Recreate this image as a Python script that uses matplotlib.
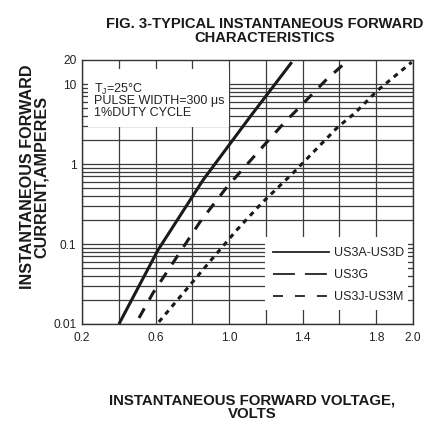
import matplotlib
matplotlib.use("Agg")
import matplotlib.pyplot as plt
from matplotlib.lines import Line2D
from matplotlib.patches import Rectangle

plt.rcParams['font.family'] = ['Liberation Sans', 'DejaVu Sans']
plt.rcParams['lines.scale_dashes'] = False
plt.rcParams['mathtext.default'] = 'regular'

# ---- data ----
v_us3a = [0.401, 0.613, 0.858, 1.113, 1.341]
i_us3a = [0.01, 0.084, 0.63, 3.87, 18.8]

v_us3g = [0.510, 0.586, 0.716, 0.841, 0.988, 1.205, 1.303, 1.368, 1.526, 1.635]
i_us3g = [0.0119, 0.0244, 0.069, 0.188, 0.516, 1.88, 3.35, 4.73, 11.2, 18.8]

v_us3j = [0.618, 0.912, 1.042, 1.178, 1.347, 1.591, 1.684, 1.809, 1.993]
i_us3j = [0.0106, 0.067, 0.15, 0.326, 0.77, 2.9, 4.34, 8.4, 18.8]

series_labels = ['US3A-US3D', 'US3G', 'US3J-US3M']

x_ticks = [0.2, 0.4, 0.6, 0.8, 1.0, 1.2, 1.4, 1.6, 1.8, 2.0]
x_tick_labels = ['0.2', '', '0.6', '', '1.0', '', '1.4', '', '1.8', '2.0']
y_ticks = [0.01, 0.1, 1, 10, 20]
y_tick_labels = ['0.01', '0.1', '1', '10', '20']

W, H = 440, 437
fig = plt.figure(figsize=(W / 100, H / 100), dpi=100)
ax = fig.add_axes([82 / W, 113 / H, 331 / W, 264 / H])

ax.set_yscale('log')
ax.set_xlim(0.2, 2.0)
ax.set_ylim(0.01, 20)

grid_c = '#3c3c3c'
minor_y = [m * 10.0 ** e for e in range(-2, 2) for m in range(2, 10) if m * 10.0 ** e < 20]
for yv in minor_y + [0.01, 0.1, 1, 10]:
    ax.axhline(yv, color=grid_c, lw=0.9, zorder=0.5)
for xv in x_ticks:
    ax.axvline(xv, color=grid_c, lw=0.9, zorder=0.5)

ax.set_xticks(x_ticks)
ax.set_xticklabels(x_tick_labels)
ax.set_yticks(y_ticks)
ax.set_yticklabels(y_tick_labels)
ax.yaxis.set_minor_locator(matplotlib.ticker.NullLocator())
ax.yaxis.set_minor_formatter(matplotlib.ticker.NullFormatter())
ax.tick_params(axis='both', which='both', length=0, labelsize=8.6, colors='#222222')
ax.tick_params(axis='x', pad=6)
ax.tick_params(axis='y', pad=4)
for s in ax.spines.values():
    s.set_color('#333333')
    s.set_linewidth(1.0)

# white boxes covering the grid
ax.add_patch(Rectangle((0.018, 0.745), 0.426, 0.222, transform=ax.transAxes,
                       facecolor='white', edgecolor='none', zorder=1))
ax.add_patch(Rectangle((0.553, 0.053), 0.432, 0.277, transform=ax.transAxes,
                       facecolor='white', edgecolor='none', zorder=1))

# curves
ax.plot(v_us3a, i_us3a, color='#1a1a1a', lw=2.2, solid_capstyle='butt', zorder=3)
ax.plot(v_us3g, i_us3g, color='#1a1a1a', lw=2.2, dashes=(7.9, 7.2), dash_capstyle='butt', zorder=3)
ax.plot(v_us3j, i_us3j, color='#1a1a1a', lw=2.2, dashes=(3.6, 3.6), dash_capstyle='butt', zorder=3)

# condition text
tc = '#222222'
ax.text(0.036, 0.89, r'T$_{J}$=25°C', transform=ax.transAxes, fontsize=9,
        va='center', ha='left', color=tc, zorder=4)
ax.text(0.036, 0.844, 'PULSE WIDTH=300 μs', transform=ax.transAxes, fontsize=9,
        va='center', ha='left', color=tc, zorder=4)
ax.text(0.036, 0.799, '1%DUTY CYCLE', transform=ax.transAxes, fontsize=9,
        va='center', ha='left', color=tc, zorder=4)

# legend
handles = [
    Line2D([], [], color='#222222', lw=1.3),
    Line2D([], [], color='#222222', lw=1.3, dashes=(15.8, 7.2)),
    Line2D([], [], color='#222222', lw=1.3, dashes=(7.2, 8.6)),
]
leg = ax.legend(handles, series_labels, loc='upper left', bbox_to_anchor=(0.577, 0.29),
                frameon=False, fontsize=9, handlelength=4.5, handletextpad=0.35,
                labelspacing=0.8, borderpad=0, borderaxespad=0)
for t in leg.get_texts():
    t.set_color(tc)
leg.set_zorder(4)

# titles
fig.text(265 / W, 1 - 30.5 / H, 'FIG. 3-TYPICAL INSTANTANEOUS FORWARD\nCHARACTERISTICS',
         ha='center', va='center', fontsize=10.6, fontweight='bold', color='#1a1a1a',
         linespacing=1.0)
fig.text(252 / W, 1 - 407.5 / H, 'INSTANTANEOUS FORWARD VOLTAGE,\nVOLTS',
         ha='center', va='center', fontsize=10.8, fontweight='bold', color='#1a1a1a',
         linespacing=1.0)
fig.text(34.5 / W, 1 - 177 / H, 'INSTANTANEOUS FORWARD\nCURRENT,AMPERES',
         ha='center', va='center', rotation=90, fontsize=11.6, fontweight='bold',
         color='#1a1a1a', linespacing=0.95)

fig.savefig('out.png', dpi=100)
